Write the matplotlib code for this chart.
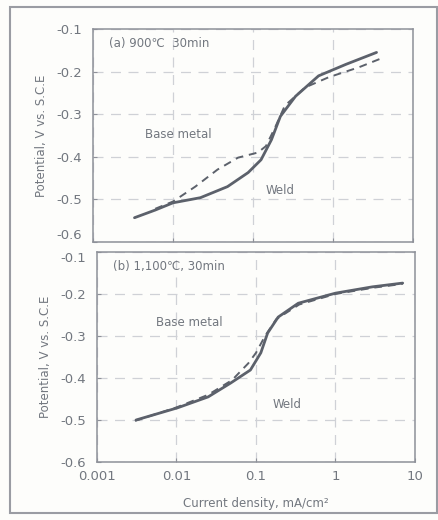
import matplotlib
matplotlib.use("Agg")
import matplotlib.pyplot as plt
from matplotlib.patches import Rectangle

# ---- data ----
a_weld_x = [0.0033, 0.006, 0.01, 0.022, 0.048, 0.087, 0.126, 0.17, 0.22, 0.34, 0.66, 1.45, 3.5]
a_weld_y = [-0.543, -0.525, -0.508, -0.496, -0.47, -0.437, -0.407, -0.36, -0.305, -0.258, -0.21, -0.183, -0.155]
a_base_x = [0.006, 0.01, 0.019, 0.036, 0.065, 0.115, 0.145, 0.19, 0.25, 0.45, 0.89, 2.1, 4.4]
a_base_y = [-0.522, -0.505, -0.47, -0.43, -0.402, -0.39, -0.375, -0.33, -0.28, -0.237, -0.213, -0.19, -0.166]

b_weld_x = [0.0031, 0.0103, 0.025, 0.048, 0.085, 0.115, 0.14, 0.19, 0.34, 1.0, 2.9, 7.0]
b_weld_y = [-0.5, -0.471, -0.445, -0.412, -0.381, -0.34, -0.293, -0.255, -0.222, -0.198, -0.183, -0.174]
b_base_x = [0.003, 0.01, 0.025, 0.05, 0.08, 0.1, 0.13, 0.18, 0.35, 1.0, 3.0, 7.0]
b_base_y = [-0.502, -0.47, -0.44, -0.405, -0.365, -0.34, -0.3, -0.26, -0.225, -0.2, -0.185, -0.176]

x_ticks = [0.001, 0.01, 0.1, 1, 10]
x_tick_labels = ["0.001", "0.01", "0.1", "1", "10"]
y_ticks = [-0.6, -0.5, -0.4, -0.3, -0.2, -0.1]
y_tick_labels = ["-0.6", "-0.5", "-0.4", "-0.3", "-0.2", "-0.1"]

title_a = "(a) 900℃  30min"
title_b = "(b) 1,100℃, 30min"
ylabel = "Potential, V vs. S.C.E"
xlabel = "Current density, mA/cm²"

txt = "#72777f"
line_c = "#5c616b"
grid_c = "#cfd1d6"

plt.rcParams['font.family'] = ['DejaVu Sans']

fig = plt.figure(figsize=(4.39, 5.20), dpi=100)
fig.patch.set_facecolor("#fdfdfb")
fig.patches.append(Rectangle((10/439, 1-513/520), 427/439, 506/520, transform=fig.transFigure,
                             fill=False, edgecolor="#9a9ca3", linewidth=1.5))

ax1 = fig.add_axes([93/439, 1-242/520, 320/439, 213/520])
ax2 = fig.add_axes([97/439, 1-462/520, 318/439, 210/520])

panels = [
    (ax1, a_weld_x, a_weld_y, a_base_x, a_base_y, title_a,
     (0.0045, -0.348), (0.145, -0.48)),
    (ax2, b_weld_x, b_weld_y, b_base_x, b_base_y, title_b,
     (0.0055, -0.267), (0.16, -0.464)),
]

for ax, wx, wy, bx, by, title, base_pos, weld_pos in panels:
    ax.set_facecolor("#fdfdfb")
    ax.set_xscale("log")
    ax.set_xlim(0.001, 10)
    ax.set_ylim(-0.6, -0.1)
    ax.plot(wx, wy, color=line_c, linewidth=2.0, solid_capstyle="round")
    ax.plot(bx, by, color=line_c, linewidth=1.4, linestyle=(0, (4, 3)))
    ax.set_yticks(y_ticks)
    ax.set_yticklabels(y_tick_labels)
    ax.set_xticks(x_ticks)
    ax.minorticks_off()
    ax.grid(True, color=grid_c, linestyle=(0, (8, 6)), linewidth=0.9)
    for s in ax.spines.values():
        s.set_color("#8e9199")
        s.set_linewidth(1.1)
    ax.tick_params(axis="both", direction="in", length=3, color="#8e9199",
                   labelcolor=txt, labelsize=9.5)
    ax.tick_params(axis="y", pad=8)
    ax.tick_params(axis="x", pad=6)
    ax.set_ylabel(ylabel, color=txt, fontsize=8.5, labelpad=6)
    ax.text(0.05, 0.93, title, transform=ax.transAxes, color=txt, fontsize=8.5,
            ha="left", va="center")
    ax.text(base_pos[0], base_pos[1], "Base metal", color=txt, fontsize=8.5,
            ha="left", va="center")
    ax.text(weld_pos[0], weld_pos[1], "Weld", color=txt, fontsize=8.5,
            ha="left", va="center")

ax1.set_xticklabels([])
ax2.set_xticklabels(x_tick_labels)
ax2.set_xlabel(xlabel, color=txt, fontsize=8.5, labelpad=10)

# keep the stacked -0.6 / -0.1 labels at the panel junction from colliding
ax1.yaxis.get_major_ticks()[0].label1.set_va("bottom")
ax2.yaxis.get_major_ticks()[-1].label1.set_va("top")

fig.savefig("out.png", dpi=100, facecolor=fig.get_facecolor())
